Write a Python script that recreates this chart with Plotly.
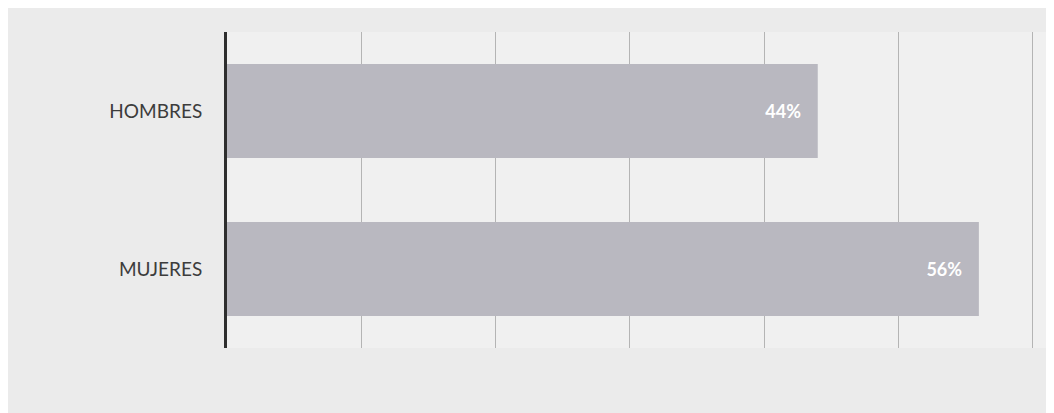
import plotly.graph_objects as go

categories = ["HOMBRES", "MUJERES"]
values = [44, 56]
tick_values = [0, 10, 20, 30, 40, 50, 60]

fig = go.Figure()
fig.add_trace(go.Bar(
    y=categories,
    x=values,
    orientation="h",
    marker=dict(color="#b9b8c0", line=dict(width=0)),
    text=[f"<b>{v}%</b>" for v in values],
    texttemplate="%{text}\u00a0\u00a0\u00a0",
    textposition="inside",
    insidetextanchor="end",
    textfont=dict(family="Lato, Open Sans, sans-serif", size=18, color="#ffffff"),
    hoverinfo="skip",
))

fig.update_layout(
    width=1054, height=413,
    margin=dict(l=219, r=16, t=24, b=73),
    paper_bgcolor="#ebebeb",
    plot_bgcolor="#f0f0f0",
    bargap=0.405,
    showlegend=False,
    font=dict(family="Lato, Open Sans, sans-serif", size=19, color="#3c3c3c"),
)
fig.update_xaxes(
    range=[0, 61],
    tickvals=tick_values,
    showticklabels=False,
    showgrid=True,
    gridcolor="#b4b4b4",
    gridwidth=1,
    zeroline=False,
    showline=False,
)
fig.update_yaxes(
    autorange="reversed",
    showline=True,
    linecolor="#2e2e2e",
    linewidth=3,
    ticks="",
    ticklabelstandoff=18,
    showgrid=False,
)
fig.write_html("out.html")
